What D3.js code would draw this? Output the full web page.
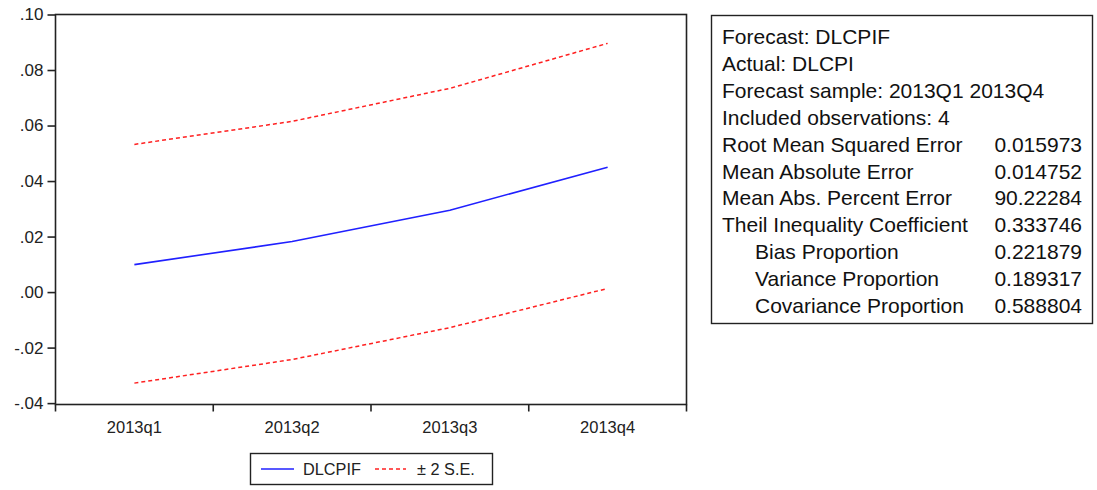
<!DOCTYPE html>
<html>
<head>
<meta charset="utf-8">
<script src="https://cdn.jsdelivr.net/npm/d3@7"></script>
<style>
  html, body { margin: 0; padding: 0; background: #fff; }
  svg { display: block; font-family: "Liberation Sans", Arial, sans-serif; }
</style>
</head>
<body>
<svg id="chart" width="1097" height="490"></svg>
<script>
// Forecast path and its ±2 standard-error band
const quarters = ["2013q1", "2013q2", "2013q3", "2013q4"];
const forecast = [0.0099, 0.0182, 0.0295, 0.0450];
const upperBand = [0.0532, 0.0615, 0.0734, 0.0896];
const lowerBand = [-0.0328, -0.0243, -0.0128, 0.0013];
const yTicks = [-0.04, -0.02, 0.00, 0.02, 0.04, 0.06, 0.08, 0.10];

// Forecast evaluation statistics
const statHeader = [
  "Forecast: DLCPIF",
  "Actual: DLCPI",
  "Forecast sample: 2013Q1 2013Q4",
  "Included observations: 4"
];
const statNames = [
  "Root Mean Squared Error",
  "Mean Absolute Error",
  "Mean Abs. Percent Error",
  "Theil Inequality Coefficient",
  "Bias Proportion",
  "Variance Proportion",
  "Covariance Proportion"
];
const statValues = ["0.015973", "0.014752", "90.22284", "0.333746", "0.221879", "0.189317", "0.588804"];
const statIndented = [false, false, false, false, true, true, true];

const svg = d3.select("#chart");
const plot = { left: 55.5, right: 686.5, top: 14.5, bottom: 404.5 };

const x = d3.scaleBand().domain(quarters).range([plot.left, plot.right]).padding(0);
const y = d3.scaleLinear().domain([-0.0405, 0.10]).range([plot.bottom, plot.top]);
const xc = q => x(q) + x.bandwidth() / 2;

// Frame
svg.append("rect")
  .attr("x", plot.left).attr("y", plot.top)
  .attr("width", plot.right - plot.left).attr("height", plot.bottom - plot.top)
  .attr("fill", "none").attr("stroke", "#222").attr("stroke-width", 1.6);

// Y axis
const fmtY = v => {
  const s = d3.format(".2f")(Math.abs(v)).replace(/^0/, "");
  return (v < -1e-9 ? "-" : "") + s;
};
const yAxis = d3.axisLeft(y).tickValues(yTicks).tickFormat(fmtY).tickSize(8).tickPadding(4);
const gy = svg.append("g").attr("transform", `translate(${plot.left},0)`).call(yAxis);
gy.select(".domain").remove();
gy.selectAll(".tick line").attr("stroke", "#222").attr("stroke-width", 1.6);
gy.selectAll(".tick text").attr("font-size", 17).attr("fill", "#222")
  .attr("font-family", "'Liberation Sans', Arial, sans-serif");

// X axis: ticks on band boundaries, labels at band centres
const gx = svg.append("g").attr("transform", `translate(0,${plot.bottom})`);
const boundaries = quarters.map(q => x(q)).concat([x(quarters[quarters.length - 1]) + x.bandwidth()]);
gx.selectAll("line.tk").data(boundaries).enter().append("line")
  .attr("x1", d => d).attr("x2", d => d).attr("y1", 0).attr("y2", 7)
  .attr("stroke", "#222").attr("stroke-width", 1.6);
gx.selectAll("text.lb").data(quarters).enter().append("text")
  .attr("x", d => xc(d)).attr("y", 28.5)
  .attr("text-anchor", "middle").attr("font-size", 16.5).attr("fill", "#222")
  .text(d => d);

// Series
const line = d3.line().x((d, i) => xc(quarters[i])).y(d => y(d));
svg.append("path").datum(upperBand).attr("d", line)
  .attr("fill", "none").attr("stroke", "#ff2020").attr("stroke-width", 1.5)
  .attr("stroke-dasharray", "4,3");
svg.append("path").datum(lowerBand).attr("d", line)
  .attr("fill", "none").attr("stroke", "#ff2020").attr("stroke-width", 1.5)
  .attr("stroke-dasharray", "4,3");
svg.append("path").datum(forecast).attr("d", line)
  .attr("fill", "none").attr("stroke", "#2020ff").attr("stroke-width", 1.6);

// Legend
const lg = svg.append("g");
lg.append("rect").attr("x", 250.5).attr("y", 453.5).attr("width", 242).attr("height", 31)
  .attr("fill", "#fff").attr("stroke", "#222").attr("stroke-width", 1.4);
lg.append("line").attr("x1", 261).attr("x2", 294).attr("y1", 469).attr("y2", 469)
  .attr("stroke", "#2020ff").attr("stroke-width", 1.5);
lg.append("text").attr("x", 303).attr("y", 475).attr("font-size", 16.3).attr("fill", "#222").text("DLCPIF");
lg.append("line").attr("x1", 375).attr("x2", 406).attr("y1", 469).attr("y2", 469)
  .attr("stroke", "#ff2020").attr("stroke-width", 1.5).attr("stroke-dasharray", "4,3");
lg.append("text").attr("x", 417).attr("y", 475).attr("font-size", 16.3).attr("fill", "#222").text("\u00B1 2 S.E.");

// Statistics box
const sb = svg.append("g");
sb.append("rect").attr("x", 711.5).attr("y", 15.5).attr("width", 381).attr("height", 308)
  .attr("fill", "#fff").attr("stroke", "#222").attr("stroke-width", 1.4);
const lineH = 26.9, firstBase = 44;
statHeader.forEach((t, i) => {
  sb.append("text").attr("x", 722).attr("y", firstBase + i * lineH)
    .attr("font-size", 21).attr("fill", "#111").text(t);
});
statNames.forEach((t, i) => {
  const yy = firstBase + (i + statHeader.length) * lineH;
  sb.append("text").attr("x", statIndented[i] ? 755 : 722).attr("y", yy)
    .attr("font-size", 21).attr("fill", "#111").text(t);
  sb.append("text").attr("x", 1082).attr("y", yy).attr("text-anchor", "end")
    .attr("font-size", 21).attr("fill", "#111").text(statValues[i]);
});
</script>
</body>
</html>
